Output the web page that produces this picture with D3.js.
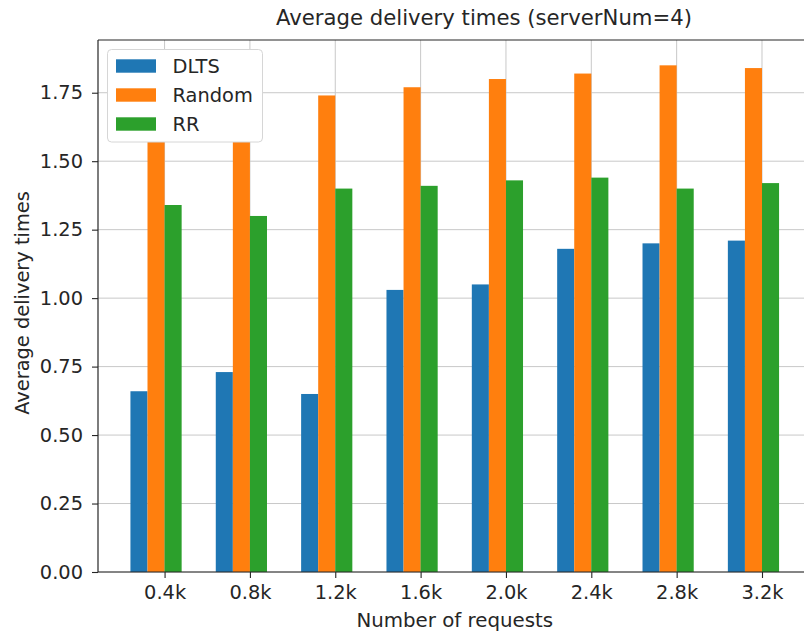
<!DOCTYPE html>
<html>
<head>
<meta charset="utf-8">
<script src="https://cdn.jsdelivr.net/npm/d3@7"></script>
<style>
  html, body { margin: 0; padding: 0; background: #fff; }
  svg { display: block; font-family: "DejaVu Sans", sans-serif; }
</style>
</head>
<body>
<svg id="chart" width="804" height="635"></svg>
<script>
// Request counts on the x axis
const categories = ["0.4k", "0.8k", "1.2k", "1.6k", "2.0k", "2.4k", "2.8k", "3.2k"];
// Average delivery times per scheduling strategy
const dlts   = [0.66, 0.73, 0.65, 1.03, 1.05, 1.18, 1.20, 1.21];
const random = [1.72, 1.73, 1.74, 1.77, 1.80, 1.82, 1.85, 1.84];
const rr     = [1.34, 1.30, 1.40, 1.41, 1.43, 1.44, 1.40, 1.42];
const seriesNames = ["DLTS", "Random", "RR"];
const yTicks = [0, 0.25, 0.5, 0.75, 1.0, 1.25, 1.5, 1.75];

const colors = ["#1f77b4", "#ff7f0e", "#2ca02c"];
const series = [dlts, random, rr];
const barW = 0.2;

const svg = d3.select("#chart");
const plotL = 98, plotR = 811.5, plotT = 40, plotB = 572;
const textColor = "#262626";
const fs = 19.4;

const x = d3.scaleLinear().domain([-0.68, 7.68]).range([plotL, plotR]);
const y = d3.scaleLinear().domain([0, 1.9425]).range([plotB, plotT]);

// grid
const grid = svg.append("g").attr("stroke", "#c8c8c8").attr("stroke-width", 1);
yTicks.forEach(t => {
  grid.append("line").attr("x1", plotL).attr("x2", plotR)
    .attr("y1", y(t)).attr("y2", y(t));
});
categories.forEach((c, i) => {
  grid.append("line").attr("x1", x(i + 0.1)).attr("x2", x(i + 0.1))
    .attr("y1", plotT).attr("y2", plotB);
});

// bars: three side-by-side groups per category
series.forEach((vals, s) => {
  svg.append("g").selectAll("rect").data(vals).join("rect")
    .attr("x", (d, i) => x(i - 0.3 + s * barW))
    .attr("width", (d, i) => x(i - 0.1 + s * barW) - x(i - 0.3 + s * barW))
    .attr("y", d => y(d))
    .attr("height", d => y(0) - y(d))
    .attr("fill", colors[s]);
});

// axes
const xAxis = d3.axisBottom(x)
  .tickValues(categories.map((c, i) => i + 0.1))
  .tickFormat((d, i) => categories[i])
  .tickSize(6).tickPadding(7);
const gx = svg.append("g").attr("transform", `translate(0,${plotB})`).call(xAxis);

const yAxis = d3.axisLeft(y)
  .tickValues(yTicks)
  .tickFormat(d3.format(".2f"))
  .tickSize(6).tickPadding(9);
const gy = svg.append("g").attr("transform", `translate(${plotL},0)`).call(yAxis);

[gx, gy].forEach(g => {
  g.select(".domain").remove();
  g.selectAll(".tick line").attr("stroke", textColor).attr("stroke-width", 1.1);
  g.selectAll(".tick text").attr("fill", textColor)
    .style("font-size", fs + "px").style("font-family", "DejaVu Sans");
});

// spines
const sp = svg.append("g").attr("stroke", textColor).attr("stroke-width", 1.2).attr("fill", "none");
sp.append("line").attr("x1", plotL).attr("x2", plotL).attr("y1", plotT).attr("y2", plotB);
sp.append("line").attr("x1", plotL).attr("x2", plotR).attr("y1", plotB).attr("y2", plotB);
sp.append("line").attr("x1", plotL).attr("x2", plotR).attr("y1", plotT).attr("y2", plotT);
sp.append("line").attr("x1", plotR).attr("x2", plotR).attr("y1", plotT).attr("y2", plotB);

// titles
svg.append("text").attr("x", 484).attr("y", 25).attr("text-anchor", "middle")
  .attr("fill", textColor).style("font-size", "21.2px")
  .text("Average delivery times (serverNum=4)");
svg.append("text").attr("x", (plotL + plotR) / 2).attr("y", 627).attr("text-anchor", "middle")
  .attr("fill", textColor).style("font-size", "19.8px")
  .text("Number of requests");
svg.append("text")
  .attr("transform", `translate(29,${(plotT + plotB) / 2 - 3}) rotate(-90)`)
  .attr("text-anchor", "middle")
  .attr("fill", textColor).style("font-size", fs + "px")
  .text("Average delivery times");

// legend
const lg = svg.append("g");
lg.append("rect").attr("x", 107.5).attr("y", 49.5).attr("width", 155).attr("height", 92.5)
  .attr("rx", 4).attr("fill", "#fff").attr("stroke", "#d6d6d6").attr("stroke-width", 1);
seriesNames.forEach((n, s) => {
  const cy = 66 + s * 29;
  lg.append("rect").attr("x", 116).attr("y", cy - 6.7).attr("width", 40).attr("height", 13.4)
    .attr("fill", colors[s]);
  lg.append("text").attr("x", 172.5).attr("y", cy + 7).attr("fill", textColor)
    .style("font-size", fs + "px").text(n);
});
</script>
</body>
</html>
